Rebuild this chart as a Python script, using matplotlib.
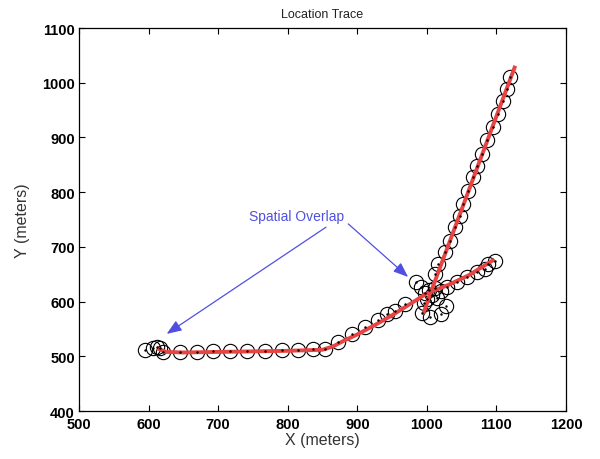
import matplotlib
matplotlib.use("Agg")
import matplotlib.pyplot as plt
import numpy as np

plt.rcParams['font.family'] = ['Liberation Sans', 'DejaVu Sans']

# measured positions (open circles)
meas_x = [595, 606, 612, 617, 621, 645, 670, 693, 717, 741, 767, 792, 815, 836, 854,
          872, 892, 911, 930, 943, 954, 968,
          985, 992, 998, 1003, 1008, 1000, 1012, 996, 1015, 1020,
          993, 1005, 1020, 1028,
          1029, 1043, 1058, 1072, 1083, 1088, 1098,
          1012, 1016, 1026, 1033, 1041, 1048, 1052, 1059, 1066, 1072, 1079, 1086,
          1095, 1102, 1109, 1115, 1120]
meas_y = [512, 516, 517, 515, 508, 508, 508, 509, 509, 510, 510, 511, 512, 513, 514,
          526, 540, 553, 566, 577, 583, 596,
          636, 626, 615, 622, 612, 605, 625, 598, 606, 620,
          580, 572, 578, 592,
          627, 636, 645, 654, 660, 669, 674,
          650, 669, 691, 711, 736, 756, 778, 802, 828, 848, 870, 895,
          919, 943, 967, 989, 1010]

# estimated trace (red line), first track
trk1_x = [612, 625, 650, 700, 750, 800, 850, 865, 880, 900, 925, 950, 975, 1000, 1030, 1060, 1097]
trk1_y = [515, 508, 507, 508, 509, 510, 512, 518, 528, 540, 557, 575, 595, 615, 630, 648, 677]
# second track
trk2_x = [995, 1005, 1127]
trk2_y = [578, 615, 1031]

x_ticks = [500, 600, 700, 800, 900, 1000, 1100, 1200]
y_ticks = [400, 500, 600, 700, 800, 900, 1000, 1100]

fig = plt.figure(figsize=(6.0, 4.6), dpi=100)
ax = fig.add_axes([0.1317, 0.1043, 0.8117, 0.8326])

ax.plot(meas_x, meas_y, linestyle='none', marker='o', markersize=10.3,
        markerfacecolor='none', markeredgecolor='black', markeredgewidth=0.8, zorder=2)
ax.plot(trk1_x, trk1_y, color='#e84444', linewidth=2.8, solid_capstyle='butt', zorder=3)
ax.plot(trk2_x, trk2_y, color='#e84444', linewidth=2.8, solid_capstyle='butt', zorder=3)
ax.plot(meas_x, meas_y, linestyle='none', marker='.', markersize=1.5, color='black', zorder=4)

ax.set_xlim(500, 1200)
ax.set_ylim(400, 1100)
ax.set_xticks(x_ticks)
ax.set_yticks(y_ticks)
ax.tick_params(direction='in', top=True, right=True, length=4, width=0.8,
               labelsize=10.5)
ax.tick_params(axis='x', pad=4)
ax.tick_params(axis='y', pad=3)
for lab in ax.get_xticklabels() + ax.get_yticklabels():
    lab.set_fontweight('bold')
for s in ax.spines.values():
    s.set_linewidth(0.9)

ax.set_title('Location Trace', fontsize=9, color='#222222', pad=8)
ax.set_xlabel('X (meters)', fontsize=11.5, color='#333333', labelpad=1)
ax.set_ylabel('Y (meters)', fontsize=11.5, color='#333333', labelpad=9)

blue = '#5050e0'
ax.text(812, 757, 'Spatial Overlap', color=blue, fontsize=10, ha='center', va='center')
arrow_kw = dict(arrowstyle='-|>,head_length=0.9,head_width=0.35', color=blue, lw=0.9,
                shrinkA=0, shrinkB=0)
ax.annotate('', xy=(626, 541), xytext=(855, 736), arrowprops=arrow_kw)
ax.annotate('', xy=(973, 645), xytext=(887, 742), arrowprops=arrow_kw)

fig.savefig('out.png', dpi=100)
